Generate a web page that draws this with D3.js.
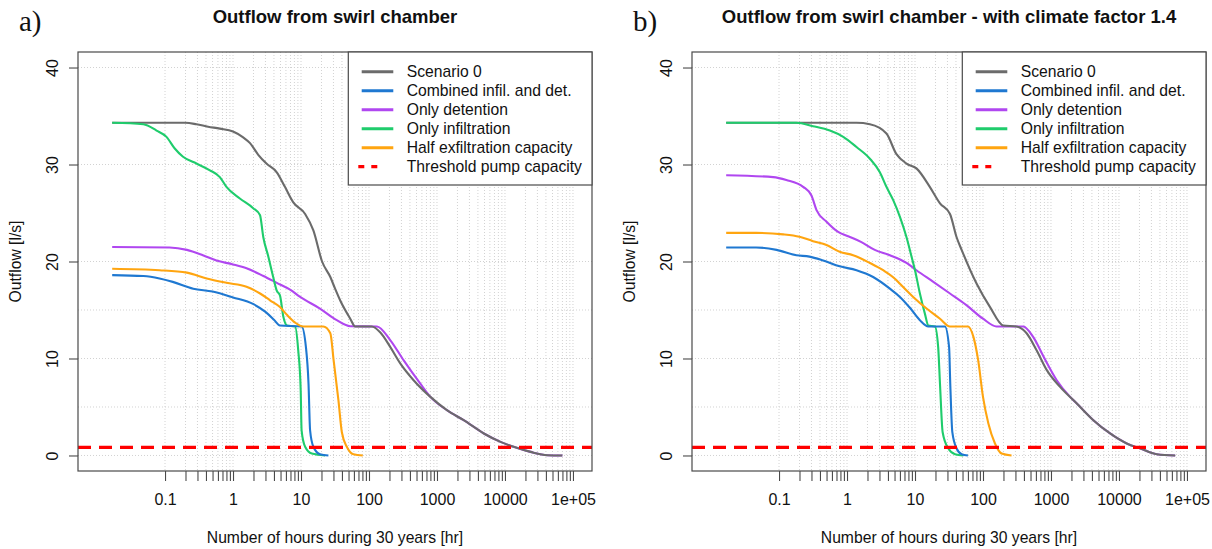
<!DOCTYPE html>
<html><head><meta charset="utf-8">
<script src="https://cdn.jsdelivr.net/npm/d3@7"></script>
<style>
html,body{margin:0;padding:0;background:#fff;}
svg text{font-family:"Liberation Sans",Arial,sans-serif;fill:#111;}
</style></head>
<body><svg id="c" width="1212" height="549"></svg>
<script>
// ---------- data (hours, outflow l/s) ----------
const seriesNames = ["Scenario 0","Combined infil. and det.","Only detention","Only infiltration","Half exfiltration capacity","Threshold pump capacity"];
const seriesColors = ["#6b6b6b","#1f78d1","#b047f0","#1fcc6c","#ffa510","#ff0000"];
const panelLetters = ["a)","b)"];
const panelTitles = ["Outflow from swirl chamber","Outflow from swirl chamber - with climate factor 1.4"];
const xTickLabels = ["0.1","1","10","100","1000","10000","1e+05"];
const xTickMajors = [0.1,1,10,100,1000,10000,100000];
const yTicks = [0,10,20,30,40];
const yGrid = [0,5,10,15,20,30,40];
const threshold = 0.83;

const scen0A = [[0.0167,34.3],[0.2,34.3],[0.29,34.15],[0.43,33.9],[0.64,33.7],[1.0,33.4],[1.41,32.8],[1.78,32.2],[2.35,31.0],[3.1,30.1],[4.4,29.2],[5.8,27.7],[7.7,26.1],[11.5,24.9],[15.2,23.2],[20.4,20.0],[27,18.4],[31.7,17.2],[37.6,16.0],[53,14.1],[62.6,13.3],[110,13.3],[146,12.7],[205,11.2],[288,9.5],[453,7.76],[800,6.04],[1400,4.67],[2470,3.64],[4890,2.27],[8600,1.40],[13400,0.89],[23800,0.37],[42000,0.03],[69800,0]];
const combinedA = [[0.0167,18.6],[0.048,18.5],[0.083,18.25],[0.13,17.9],[0.26,17.2],[0.5,16.9],[1.0,16.3],[2.0,15.6],[3.0,14.8],[4.0,14.0],[4.9,13.4],[10.2,13.3],[11.8,11.2],[12.9,7.4],[13.6,2.6],[15.2,0.9],[19,0.13],[25.3,0]];
const onlyDetA = [[0.0167,21.5],[0.117,21.45],[0.21,21.2],[0.36,20.65],[0.57,20.1],[1.0,19.7],[1.58,19.3],[2.8,18.5],[4.4,17.8],[6.9,17.1],[9.7,16.35],[19,15.15],[33.6,13.95],[53,13.33],[131,13.3],[205,11.9],[324,9.8],[569,7.4],[800,6.04],[1400,4.67],[2470,3.64],[4890,2.27],[8600,1.40],[13400,0.89],[23800,0.37],[42000,0.03],[69800,0]];
const onlyInfA = [[0.0167,34.3],[0.048,34.15],[0.075,33.5],[0.105,32.85],[0.139,31.65],[0.184,30.8],[0.29,30.1],[0.457,29.4],[0.64,28.7],[0.8,27.7],[1.26,26.5],[1.98,25.5],[2.49,24.8],[2.79,22.5],[3.31,20.5],[3.9,18.4],[4.4,17.0],[4.9,16.5],[5.5,14.3],[6.2,13.4],[8.2,13.3],[9.1,10.85],[9.9,6.7],[10.2,2.6],[11.5,0.9],[14.4,0.2],[22.6,0]];
const halfExfA = [[0.0167,19.25],[0.083,19.1],[0.21,18.85],[0.41,18.25],[0.8,17.8],[1.58,17.4],[2.5,16.7],[3.5,16.0],[4.9,15.3],[6.2,14.5],[8.2,13.7],[10.8,13.3],[21.3,13.3],[27,12.6],[30.2,9.8],[35.5,5.7],[39.9,2.4],[47.2,0.9],[59,0.13],[81,0]];

const scen0B = [[0.0167,34.3],[1.38,34.3],[2.17,34.15],[3.8,33.2],[5.3,31.1],[7.5,30.1],[10.5,29.6],[16.5,27.7],[23.3,26.0],[32.7,24.9],[40.9,22.5],[48.5,21.2],[80.7,17.7],[127,15.3],[199,13.4],[313,13.3],[438,12.6],[614,10.85],[868,8.8],[1360,7.07],[2400,5.36],[4200,3.64],[7400,2.27],[13000,1.24],[20600,0.72],[36000,0.13],[67000,0]];
const combinedB = [[0.0167,21.45],[0.046,21.45],[0.092,21.2],[0.18,20.65],[0.28,20.5],[0.445,20.1],[0.78,19.5],[1.38,19.1],[2.42,18.4],[4.27,17.2],[6.0,16.35],[8.6,15.15],[11.8,13.95],[15.7,13.3],[27.5,13.3],[31.7,11.2],[33,7.4],[35.4,2.4],[40.9,0.72],[48.5,0.13],[60,0]];
const onlyDetB = [[0.0167,28.9],[0.082,28.7],[0.128,28.4],[0.226,27.7],[0.30,26.8],[0.356,25.3],[0.50,24.1],[0.74,23.05],[1.04,22.6],[1.63,22.0],[2.56,21.2],[4.27,20.65],[7.5,19.85],[10.5,19.1],[18.6,17.9],[32.7,16.7],[57,15.5],[100,14.1],[158,13.3],[390,13.3],[550,12.2],[776,10.2],[1215,7.76],[1910,6.04],[2400,5.36],[4200,3.64],[7400,2.27],[13000,1.24],[20600,0.72],[36000,0.13],[67000,0]];
const onlyInfB = [[0.0167,34.3],[0.18,34.3],[0.316,33.95],[0.56,33.5],[0.88,32.85],[1.38,31.8],[2.17,30.6],[3.04,29.2],[3.8,27.7],[4.8,26.3],[6.0,24.6],[7.5,22.5],[8.9,20.5],[10,19.1],[11.8,16.7],[14,14.6],[15.7,13.4],[19.6,13.3],[21.9,11.2],[23.3,7.4],[25.5,2.4],[30.9,0.72],[38.8,0.13],[51.5,0]];
const halfExfB = [[0.0167,22.95],[0.046,22.95],[0.115,22.8],[0.2,22.55],[0.316,22.1],[0.5,21.7],[0.78,21.0],[1.23,20.65],[2.17,19.85],[3.4,19.1],[5.3,18.1],[6.0,17.7],[9.4,16.35],[14.8,15.15],[23.3,14.1],[32.7,13.3],[60,13.3],[72.5,12.2],[85,9.8],[100,6.04],[120,3.3],[150,1.24],[188,0.2],[263,0]];

const panelSeries = [
  [scen0A, combinedA, onlyDetA, onlyInfA, halfExfA],
  [scen0B, combinedB, onlyDetB, onlyInfB, halfExfB]
];
// ---------- drawing ----------
const svg = d3.select("#c");
const panelLeft = [78, 692], panelW = 514;
const plotTop = 52, plotBottom = 471;
const drawOrder = [2, 0, 3, 1, 4]; // purple under grey

const minorTicks = [];
for (let k = -1; k <= 4; k++) for (let m = 1; m <= 9; m++) minorTicks.push(+(m * Math.pow(10, k)).toPrecision(3));
minorTicks.push(100000);

panelLetters.forEach((letter, p) => {
  const x0 = panelLeft[p], x1 = x0 + panelW;
  const x = d3.scaleLog().domain([Math.pow(10, -2.28), Math.pow(10, 5.28)]).range([x0, x1]);
  const y = d3.scaleLinear().domain([-1.6, 41.6]).range([plotBottom, plotTop]);
  const g = svg.append("g");

  g.selectAll(".vg").data(minorTicks).enter().append("line")
    .attr("x1", d => x(d)).attr("x2", d => x(d)).attr("y1", plotTop).attr("y2", plotBottom)
    .attr("stroke", "#d2d2d2").attr("stroke-width", 1).attr("stroke-dasharray", "1,2");
  g.selectAll(".hg").data(yGrid).enter().append("line")
    .attr("x1", x0).attr("x2", x1).attr("y1", d => y(d)).attr("y2", d => y(d))
    .attr("stroke", "#d2d2d2").attr("stroke-width", 1).attr("stroke-dasharray", "1,2");

  const line = d3.line().x(d => x(d[0])).y(d => y(d[1])).curve(d3.curveMonotoneX);
  drawOrder.forEach(i => {
    g.append("path").datum(panelSeries[p][i]).attr("d", line)
      .attr("fill", "none").attr("stroke", seriesColors[i]).attr("stroke-width", 2.1)
      .attr("stroke-linejoin", "round");
  });
  g.append("line").attr("x1", x0).attr("x2", x1).attr("y1", y(threshold)).attr("y2", y(threshold))
    .attr("stroke", seriesColors[5]).attr("stroke-width", 3.3).attr("stroke-dasharray", "13,8");

  g.append("rect").attr("x", x0).attr("y", plotTop).attr("width", panelW).attr("height", plotBottom - plotTop)
    .attr("fill", "none").attr("stroke", "#4a4a4a").attr("stroke-width", 1.2);

  const xa = d3.axisBottom(x).tickValues(minorTicks).tickSize(10).tickPadding(13)
    .tickFormat(d => { const i = xTickMajors.indexOf(d); return i >= 0 ? xTickLabels[i] : ""; });
  const gx = g.append("g").attr("transform", `translate(0,${plotBottom})`).call(xa);
  gx.select(".domain").remove();
  gx.selectAll(".tick line").attr("stroke", "#4a4a4a").attr("stroke-width", 1.1);
  gx.selectAll(".tick text").attr("font-size", 16).attr("fill", "#111")
    .attr("font-family", "Liberation Sans, Arial, sans-serif");

  const ya = d3.axisLeft(y).tickValues(yTicks).tickSize(9).tickFormat(d3.format("d"));
  const gy = g.append("g").attr("transform", `translate(${x0},0)`).call(ya);
  gy.select(".domain").remove();
  gy.selectAll(".tick line").attr("stroke", "#4a4a4a").attr("stroke-width", 1.1);
  gy.selectAll(".tick text").attr("font-size", 16).attr("fill", "#111")
    .attr("font-family", "Liberation Sans, Arial, sans-serif")
    .attr("x", null).attr("dy", null).attr("text-anchor", "middle")
    .attr("transform", "translate(-20.5,0) rotate(-90)");

  g.append("text").attr("x", (x0 + x1) / 2).attr("y", 23).attr("text-anchor", "middle")
    .attr("font-size", 18.5).attr("font-weight", "bold").text(panelTitles[p]);
  g.append("text").attr("x", x0 - 59).attr("y", 31).attr("font-size", 29)
    .style("font-family", "'Liberation Serif','Times New Roman',serif").text(letter);
  g.append("text").attr("x", (x0 + x1) / 2).attr("y", 543).attr("text-anchor", "middle")
    .attr("font-size", 15.7).text("Number of hours during 30 years [hr]");
  g.append("text").attr("transform", `translate(${x0 - 57},${(plotTop + plotBottom) / 2}) rotate(-90)`)
    .attr("text-anchor", "middle").attr("font-size", 15.7).text("Outflow [l/s]");

  const lx = x0 + 270.3, ly = plotTop;
  g.append("rect").attr("x", lx).attr("y", ly).attr("width", x1 - lx).attr("height", 133)
    .attr("fill", "#fff").attr("stroke", "#4a4a4a").attr("stroke-width", 1.2);
  seriesNames.forEach((name, i) => {
    const yy = ly + 19.7 + i * 19;
    const ln = g.append("line").attr("x1", lx + 13.4).attr("x2", lx + 45).attr("y1", yy).attr("y2", yy)
      .attr("stroke", seriesColors[i]).attr("stroke-width", i === 5 ? 3.3 : 3);
    if (i === 5) ln.attr("x1", lx + 10).attr("x2", lx + 30).attr("stroke-dasharray", "6,7");
    g.append("text").attr("x", lx + 58.4).attr("y", yy + 5.5).attr("font-size", 15.7).text(name);
  });
});
</script></body></html>
